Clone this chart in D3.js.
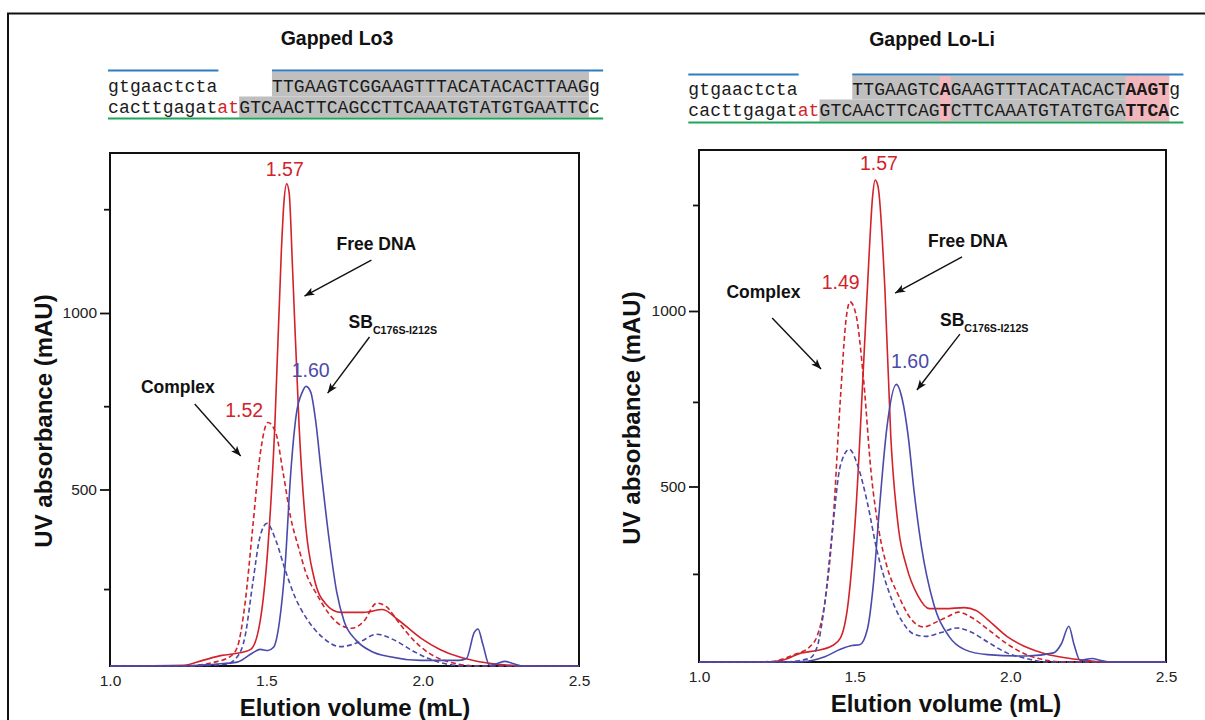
<!DOCTYPE html>
<html><head><meta charset="utf-8">
<script src="https://cdn.jsdelivr.net/npm/d3@7"></script>
<style>body{margin:0;background:#fff}svg{display:block}</style>
</head><body>
<svg id="chart" width="1205" height="720"></svg>
<script>
// ---------------- DATA ----------------
const panelTitles = ["Gapped Lo3", "Gapped Lo-Li"];
const xTickValues = [1.0, 1.5, 2.0, 2.5];
const xTitle = "Elution volume (mL)";
const yTitle = "UV absorbance (mAU)";
const lo3YTicks = [218, 500, 736, 1000, 1294];
const loliYTicks = [251, 500, 741, 1000, 1302];
const labeledYTicks = [500, 1000];

// DNA sequences (one character per column)
const lo3Top    = "gtgaactcta     TTGAAGTCGGAAGTTTACATACACTTAAGg";
const lo3Bottom = "cacttgagatatGTCAACTTCAGCCTTCAAATGTATGTGAATTCc";
const loliTop    = "gtgaactcta     TTGAAGTCAGAAGTTTACATACACTAAGTg";
const loliBottom = "cacttgagatatGTCAACTTCAGTCTTCAAATGTATGTGATTCAc";
const redColumnsBottom = [10, 11];
const lo3MutatedColumns = [];
const loliMutatedColumns = [23, 40, 41, 42, 43];
const grayTopColumns = [15, 44];     // [start, end)
const grayBottomColumns = [12, 44];

// Chromatograms [elution volume mL, absorbance mAU]
const lo3FreeDNA = [[1.0,0],[1.236,2],[1.297,16],[1.358,30],[1.407,36],[1.450,47],[1.480,126],[1.505,336],[1.527,676],[1.548,1175],[1.556,1310],[1.565,1366],[1.573,1340],[1.584,1123],[1.605,676],[1.627,388],[1.652,252],[1.688,178],[1.737,152],[1.811,152],[1.872,160],[1.921,131],[1.994,79],[2.055,47],[2.116,26],[2.177,13],[2.239,5],[2.35,0],[2.5,0]];
const lo3ComplexDNA = [[1.0,0],[1.236,0],[1.334,11],[1.383,26],[1.407,53],[1.432,178],[1.456,388],[1.480,598],[1.505,690],[1.530,661],[1.554,546],[1.578,420],[1.603,336],[1.627,263],[1.664,199],[1.701,147],[1.737,116],[1.774,107],[1.811,126],[1.853,178],[1.884,168],[1.921,126],[1.970,74],[2.019,37],[2.067,16],[2.116,5],[2.177,0],[2.5,0]];
const lo3ComplexProtein = [[1.0,0],[1.236,0],[1.370,5],[1.407,26],[1.432,84],[1.456,231],[1.480,367],[1.502,404],[1.530,357],[1.560,273],[1.590,199],[1.627,137],[1.676,84],[1.737,55],[1.798,68],[1.853,90],[1.908,74],[1.970,42],[2.019,21],[2.080,5],[2.140,0],[2.5,0]];
const lo3Protein = [[1.0,0],[1.236,0],[1.334,5],[1.407,11],[1.456,37],[1.480,47],[1.505,44],[1.523,53],[1.542,126],[1.560,284],[1.578,546],[1.596,714],[1.615,776],[1.627,792],[1.642,776],[1.658,693],[1.676,546],[1.701,357],[1.725,210],[1.749,126],[1.786,74],[1.835,42],[1.896,26],[1.994,16],[2.116,16],[2.140,21],[2.165,95],[2.177,105],[2.192,63],[2.214,2],[2.239,7],[2.263,13],[2.288,7],[2.324,0],[2.5,0]];

const loliFreeDNA = [[1.0,0],[1.217,0],[1.267,5],[1.330,26],[1.379,33],[1.429,47],[1.454,68],[1.479,168],[1.504,432],[1.529,854],[1.547,1171],[1.557,1320],[1.566,1373],[1.575,1355],[1.597,1065],[1.616,643],[1.641,379],[1.666,274],[1.703,189],[1.740,152],[1.790,152],[1.852,155],[1.890,147],[1.927,121],[1.989,73],[2.052,42],[2.114,23],[2.176,12],[2.238,5],[2.301,0],[2.5,0]];
const loliComplexDNA = [[1.0,0],[1.230,1],[1.305,21],[1.354,42],[1.379,73],[1.404,168],[1.429,379],[1.454,748],[1.473,981],[1.485,1026],[1.504,991],[1.529,801],[1.553,538],[1.579,369],[1.603,274],[1.641,189],[1.678,126],[1.721,100],[1.765,115],[1.803,131],[1.834,142],[1.877,126],[1.927,94],[1.989,52],[2.052,21],[2.114,5],[2.176,0],[2.5,0]];
const loliComplexProtein = [[1.0,0],[1.267,0],[1.354,10],[1.379,42],[1.404,168],[1.429,379],[1.454,559],[1.483,606],[1.510,559],[1.541,453],[1.572,316],[1.610,200],[1.653,115],[1.691,79],[1.728,73],[1.778,84],[1.828,97],[1.877,84],[1.927,57],[1.989,26],[2.052,10],[2.114,0],[2.5,0]];
const loliProtein = [[1.0,0],[1.267,0],[1.330,1],[1.404,15],[1.454,36],[1.491,47],[1.516,49],[1.541,94],[1.560,221],[1.579,432],[1.603,664],[1.634,791],[1.653,748],[1.672,643],[1.691,485],[1.715,326],[1.753,168],[1.803,73],[1.852,36],[1.927,21],[2.052,17],[2.139,26],[2.164,52],[2.188,102],[2.204,52],[2.224,5],[2.263,10],[2.288,5],[2.325,0],[2.5,0]];

// Peak labels [text, x mL, y mAU, series colour key]
const lo3PeakLabels = [["1.57",1.559,1388,"red"],["1.52",1.429,705,"red"],["1.60",1.642,819,"blue"]];
const loliPeakLabels = [["1.57",1.578,1402,"red"],["1.49",1.455,1063,"red"],["1.60",1.678,838,"blue"]];
// Annotations [text, x, y] and arrows [x1,y1,x2,y2]
const lo3Notes = [["Free DNA",1.852,1178],["Complex",1.217,773]];
const loliNotes = [["Free DNA",1.864,1182],["Complex",1.207,1037]];
const lo3SB = [1.763, 957];
const loliSB = [1.774, 957];
const lo3Arrows = [[1.836,1150,1.622,1048],[1.830,932,1.696,773],[1.271,742,1.418,595]];
const loliArrows = [[1.845,1154,1.630,1051],[1.838,934,1.700,775],[1.235,980,1.392,835]];

// ---------------- DRAW ----------------
const RED = "#d2232a", BLUE = "#4a4aab";
const colors = {red: RED, blue: BLUE};
const svg = d3.select("#chart");
const FONT = "'Liberation Sans', Arial, Helvetica, sans-serif";
const MONO = "'Liberation Mono', 'Courier New', monospace";

svg.append("defs").append("marker")
  .attr("id","arrow").attr("markerUnits","userSpaceOnUse")
  .attr("markerWidth",12).attr("markerHeight",10)
  .attr("refX",10).attr("refY",4).attr("orient","auto")
  .append("path").attr("d","M0,0 L10,4 L0,8 L2.5,4 Z").attr("fill","#111");

// outer frame
svg.append("rect").attr("x",8).attr("y",13.5).attr("width",1400).attr("height",900)
  .attr("fill","none").attr("stroke","#111").attr("stroke-width",2);

const panels = [
  {title: panelTitles[0], titleX: 337, titleY: 45,
   top: lo3Top, bottom: lo3Bottom, mutated: lo3MutatedColumns,
   seqX: 108, blueY: 70.5, rowTop: 71.5, rowMid: 96.5, rowBot: 117.5, base1: 91.7, base2: 112.7, greenY: 118.5,
   box: {x0:110, x1:579, y0:153, y1:666}, yMax: (666-153)/0.353, yTicks: lo3YTicks,
   series: [[lo3FreeDNA,"red",false],[lo3ComplexDNA,"red",true],[lo3ComplexProtein,"blue",true],[lo3Protein,"blue",false]],
   peaks: lo3PeakLabels, notes: lo3Notes, sb: lo3SB, arrows: lo3Arrows,
   yTitleX: 43, yTitleY: 421, xTitleX: 355, xTitleY: 716},
  {title: panelTitles[1], titleX: 932, titleY: 46,
   top: loliTop, bottom: loliBottom, mutated: loliMutatedColumns,
   seqX: 688.3, blueY: 74.5, rowTop: 75.5, rowMid: 99.5, rowBot: 121.5, base1: 94.5, base2: 116, greenY: 122.5,
   box: {x0:699, x1:1166, y0:150, y1:662}, yMax: (662-150)/0.351, yTicks: loliYTicks,
   series: [[loliFreeDNA,"red",false],[loliComplexDNA,"red",true],[loliComplexProtein,"blue",true],[loliProtein,"blue",false]],
   peaks: loliPeakLabels, notes: loliNotes, sb: loliSB, arrows: loliArrows,
   yTitleX: 631, yTitleY: 418, xTitleX: 946, xTitleY: 712}
];

const CW = 10.93; // character width for the monospace sequences

panels.forEach((p, pi) => {
  const g = svg.append("g");
  // title
  g.append("text").attr("x",p.titleX).attr("y",p.titleY).attr("text-anchor","middle")
    .attr("font-family",FONT).attr("font-weight","bold").attr("font-size",19.5).attr("fill","#111").text(p.title);

  // sequence highlights
  const cx = c => p.seqX + c*CW;
  g.append("rect").attr("x",cx(grayTopColumns[0])).attr("y",p.rowTop)
    .attr("width",(grayTopColumns[1]-grayTopColumns[0])*CW).attr("height",p.rowMid-p.rowTop).attr("fill","#bfbfbf");
  g.append("rect").attr("x",cx(grayBottomColumns[0])).attr("y",p.rowMid)
    .attr("width",(grayBottomColumns[1]-grayBottomColumns[0])*CW).attr("height",p.rowBot-p.rowMid).attr("fill","#bfbfbf");
  p.mutated.forEach(c => {
    g.append("rect").attr("x",cx(c)).attr("y",p.rowTop).attr("width",CW).attr("height",p.rowBot-p.rowTop).attr("fill","#f4b6bd");
  });
  // blue and green strand lines
  g.append("line").attr("x1",cx(0)).attr("x2",cx(10.1)).attr("y1",p.blueY).attr("y2",p.blueY).attr("stroke","#2f7dbb").attr("stroke-width",2);
  g.append("line").attr("x1",cx(15)).attr("x2",cx(45.3)).attr("y1",p.blueY).attr("y2",p.blueY).attr("stroke","#2f7dbb").attr("stroke-width",2);
  g.append("line").attr("x1",cx(0)).attr("x2",cx(45.3)).attr("y1",p.greenY).attr("y2",p.greenY).attr("stroke","#1fa65a").attr("stroke-width",2.2);
  // letters
  const drawRow = (str, baseY, isBottom) => {
    g.append("g").selectAll("text").data(str.split("").map((ch,i)=>({ch,i})).filter(d=>d.ch!==" "))
      .join("text")
      .attr("x", d => cx(d.i) + CW/2).attr("y", baseY).attr("text-anchor","middle")
      .attr("font-family", MONO).attr("font-size", 18)
      .attr("font-weight", d => p.mutated.includes(d.i) ? "bold" : "normal")
      .attr("fill", d => (isBottom && redColumnsBottom.includes(d.i)) ? RED : "#1a1a1a")
      .text(d => d.ch);
  };
  drawRow(p.top, p.base1, false);
  drawRow(p.bottom, p.base2, true);

  // scales
  const b = p.box;
  const x = d3.scaleLinear().domain([1.0, 2.5]).range([b.x0, b.x1]);
  const y = d3.scaleLinear().domain([0, p.yMax]).range([b.y1, b.y0]);

  const clipId = "clip" + pi;
  svg.select("defs").append("clipPath").attr("id", clipId)
    .append("rect").attr("x", b.x0).attr("y", b.y0 - 2).attr("width", b.x1 - b.x0 + 1).attr("height", b.y1 - b.y0 + 4);

  // axes
  const minor = g.append("g").attr("transform",`translate(${b.x0},0)`)
    .call(d3.axisLeft(y).tickValues(p.yTicks.filter(t=>!labeledYTicks.includes(t))).tickSize(6).tickFormat(""));
  const major = g.append("g").attr("transform",`translate(${b.x0},0)`)
    .call(d3.axisLeft(y).tickValues(p.yTicks.filter(t=>labeledYTicks.includes(t))).tickSize(10).tickPadding(3).tickFormat(d3.format("d")));
  [minor, major].forEach(a => {
    a.select(".domain").remove();
    a.selectAll("line").attr("stroke","#111").attr("stroke-width",1.8);
    a.selectAll("text").attr("font-family",FONT).attr("font-size",15.5).attr("fill","#222");
  });
  const xa = g.append("g").attr("transform",`translate(0,${b.y1})`)
    .call(d3.axisBottom(x).tickValues(xTickValues).tickSize(0).tickPadding(9).tickFormat(d3.format(".1f")));
  xa.select(".domain").remove();
  xa.selectAll("text").attr("font-family",FONT).attr("font-size",15.5).attr("fill","#222");

  // box (drawn under the traces, as in the instrument plot)
  g.append("rect").attr("x",b.x0).attr("y",b.y0).attr("width",b.x1-b.x0).attr("height",b.y1-b.y0)
    .attr("fill","none").attr("stroke","#111").attr("stroke-width",2);

  // curves
  const line = d3.line().x(d => x(d[0])).y(d => y(d[1])).curve(d3.curveMonotoneX);
  const cg = g.append("g").attr("clip-path",`url(#${clipId})`);
  p.series.forEach(([data, col, dashed]) => {
    cg.append("path").datum(data).attr("d", line).attr("fill","none")
      .attr("stroke", colors[col]).attr("stroke-width", 1.6)
      .attr("stroke-dasharray", dashed ? "5,3" : null)
      .attr("stroke-linejoin","round");
  });

  // peak labels
  p.peaks.forEach(([t, px, py, col]) => {
    g.append("text").attr("x", x(px)).attr("y", y(py)).attr("text-anchor","middle")
      .attr("font-family",FONT).attr("font-size",19.5).attr("fill",colors[col]).text(t);
  });
  // notes
  p.notes.forEach(([t, px, py]) => {
    g.append("text").attr("x", x(px)).attr("y", y(py)).attr("text-anchor","middle")
      .attr("font-family",FONT).attr("font-weight","bold").attr("font-size",17.5).attr("fill","#111").text(t);
  });
  const sb = g.append("text").attr("x", x(p.sb[0])).attr("y", y(p.sb[1]))
    .attr("font-family",FONT).attr("font-weight","bold").attr("fill","#111");
  sb.append("tspan").attr("font-size",17.5).text("SB");
  sb.append("tspan").attr("font-size",10.7).attr("dy",5.5).text("C176S-I212S");
  // arrows
  p.arrows.forEach(([x1,y1,x2,y2]) => {
    g.append("line").attr("x1",x(x1)).attr("y1",y(y1)).attr("x2",x(x2)).attr("y2",y(y2))
      .attr("stroke","#111").attr("stroke-width",1.4).attr("marker-end","url(#arrow)");
  });

  // axis titles
  g.append("text").attr("transform",`translate(${p.yTitleX},${p.yTitleY}) rotate(-90)`)
    .attr("text-anchor","middle").attr("dominant-baseline","central")
    .attr("font-family",FONT).attr("font-weight","bold").attr("font-size",24).attr("fill","#111").text(yTitle);
  g.append("text").attr("x",p.xTitleX).attr("y",p.xTitleY).attr("text-anchor","middle")
    .attr("font-family",FONT).attr("font-weight","bold").attr("font-size",24).attr("fill","#111").text(xTitle);
});
</script>
</body></html>
